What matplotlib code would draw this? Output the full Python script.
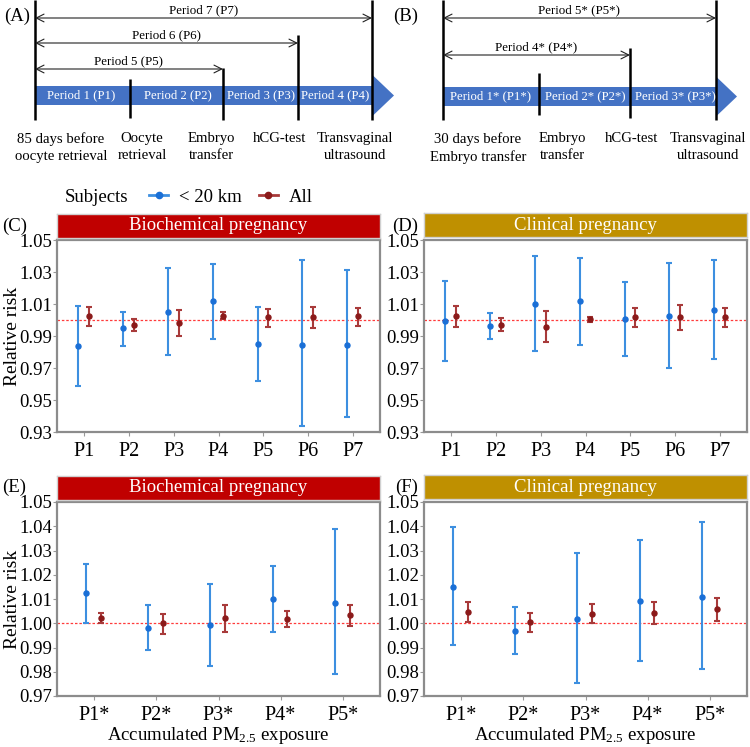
import numpy as np
import matplotlib
matplotlib.use('Agg')
import matplotlib.pyplot as plt
from matplotlib.patches import Rectangle, Polygon
from matplotlib.lines import Line2D

plt.rcParams['font.family'] = ['Liberation Serif', 'DejaVu Serif']
plt.rcParams['mathtext.fontset'] = 'custom'
plt.rcParams['mathtext.rm'] = 'Liberation Serif'
plt.rcParams['mathtext.it'] = 'Liberation Serif:italic'

# ---- data ----
cats_cd = ['P1', 'P2', 'P3', 'P4', 'P5', 'P6', 'P7']
cats_ef = ['P1*', 'P2*', 'P3*', 'P4*', 'P5*']

# (C) biochemical pregnancy, P1-P7
c_near = [0.984, 0.9947, 1.0053, 1.0116, 0.9848, 0.9844, 0.9844]
c_near_lo = [0.959, 0.984, 0.978, 0.988, 0.9617, 0.9339, 0.9396]
c_near_hi = [1.009, 1.0053, 1.0328, 1.035, 1.008, 1.0375, 1.031]
c_all = [1.0023, 0.997, 0.998, 1.0025, 1.0017, 1.0017, 1.0023]
c_all_lo = [0.9964, 0.993, 0.9897, 1.0004, 0.9958, 0.995, 0.9962]
c_all_hi = [1.008, 1.0006, 1.0063, 1.0048, 1.007, 1.0084, 1.0078]

# (D) clinical pregnancy, P1-P7
d_near = [0.9992, 0.9962, 1.0099, 1.0118, 1.0006, 1.0027, 1.0065]
d_near_lo = [0.9743, 0.9882, 0.9806, 0.9846, 0.9777, 0.9703, 0.9756]
d_near_hi = [1.0244, 1.0042, 1.0402, 1.0385, 1.0238, 1.0356, 1.0377]
d_all = [1.0025, 0.9968, 0.9956, 1.0004, 1.0019, 1.0019, 1.0019]
d_all_lo = [0.9956, 0.993, 0.9861, 0.9985, 0.9954, 0.9939, 0.9954]
d_all_hi = [1.009, 1.0015, 1.0057, 1.0021, 1.0074, 1.0095, 1.0074]

# (E) biochemical pregnancy, P1*-P5*
e_near = [1.0123, 0.9982, 0.9992, 1.0101, 1.0084]
e_near_lo = [1.0003, 0.9888, 0.9822, 0.9964, 0.9789]
e_near_hi = [1.0243, 1.0077, 1.0161, 1.0237, 1.0388]
e_all = [1.0021, 0.9999, 1.0021, 1.0018, 1.0032]
e_all_lo = [0.9999, 0.9957, 0.9964, 0.9986, 0.9988]
e_all_hi = [1.0043, 1.0039, 1.0076, 1.0051, 1.0074]

# (F) clinical pregnancy, P1*-P5*
f_near = [1.0151, 0.9968, 1.0018, 1.0093, 1.0109]
f_near_lo = [0.991, 0.9874, 0.9754, 0.9844, 0.9812]
f_near_hi = [1.0397, 1.0065, 1.0291, 1.0345, 1.0417]
f_all = [1.0047, 1.0006, 1.004, 1.0043, 1.0057]
f_all_lo = [1.0006, 0.9964, 1.0, 0.9997, 1.001]
f_all_hi = [1.0089, 1.0044, 1.0079, 1.0089, 1.0104]

yticks_cd = [0.93, 0.95, 0.97, 0.99, 1.01, 1.03, 1.05]
yticks_ef = [0.97, 0.98, 0.99, 1.00, 1.01, 1.02, 1.03, 1.04, 1.05]

BLUE = '#3d8fe0'
BLUE_DOT = '#1a6fd6'
RED = '#a83a3a'
RED_DOT = '#8b1a1a'
STRIP_RED = '#c00000'
STRIP_GOLD = '#bf9000'
BAR_BLUE = '#4472c4'

W, H = 750, 747
fig = plt.figure(figsize=(7.5, 7.47), dpi=100)


def fx(px):
    return px / W


def fy(px):
    return 1 - px / H


# ---- timeline diagrams (pixel coordinates) ----
dg = fig.add_axes([0, fy(172), 1, 172 / H])
dg.set_xlim(0, W)
dg.set_ylim(172, 0)
dg.axis('off')


def timeline(x0, x_end, bar_y, ticks, periods, spans, events):
    dg.add_patch(Rectangle((x0, bar_y[0]), x_end - x0, bar_y[1] - bar_y[0],
                           color=BAR_BLUE, lw=0))
    mid = (bar_y[0] + bar_y[1]) / 2
    dg.add_patch(Polygon([[x_end, mid - 20], [x_end + 21, mid], [x_end, mid + 20]],
                         closed=True, color=BAR_BLUE, lw=0))
    for x, y_top, y_bot in ticks:
        dg.plot([x, x], [y_top, y_bot], color='black', lw=1.8, solid_capstyle='butt')
    for x, txt in periods:
        dg.text(x, mid, txt, color='white', fontsize=9.2, ha='center', va='center')
    for xa, xb, y, txt in spans:
        dg.annotate('', xy=(xa, y), xytext=(xb, y),
                    arrowprops=dict(arrowstyle='<->', lw=0.8, color='#222222',
                                    shrinkA=0, shrinkB=0, mutation_scale=14))
        dg.text((xa + xb) / 2, y - 2, txt, fontsize=9.3, ha='center', va='bottom')
    for x, txt in events:
        dg.text(x, 132, txt, fontsize=10.6, ha='center', va='top', linespacing=1.4)


timeline(35, 373, (86, 105),
         [(35, 0, 120), (130, 79, 118), (223, 68, 120), (298, 35, 120), (372, 0, 120)],
         [(81, 'Period 1 (P1)'), (178, 'Period 2 (P2)'),
          (261, 'Period 3 (P3)'), (335, 'Period 4 (P4)')],
         [(35, 372, 18, 'Period 7 (P7)'), (35, 298, 43, 'Period 6 (P6)'),
          (35, 223, 69, 'Period 5 (P5)')],
         [(61, '85 days before\noocyte retrieval'), (142, 'Oocyte\nretrieval'),
          (211, 'Embryo\ntransfer'), (280, 'hCG-test'),
          (355, 'Transvaginal\nultrasound')])

timeline(443, 716, (87, 106),
         [(443, 0, 120), (539, 73, 115), (630, 48, 118), (716, 0, 120)],
         [(490, 'Period 1* (P1*)'), (585, 'Period 2* (P2*)'), (675, 'Period 3* (P3*)')],
         [(443, 716, 18, 'Period 5* (P5*)'), (443, 630, 55, 'Period 4* (P4*)')],
         [(478, '30 days before\nEmbryo transfer'), (562, 'Embryo\ntransfer'),
          (632, 'hCG-test'), (708, 'Transvaginal\nultrasound')])

fig.text(fx(4), fy(16), '(A)', fontsize=13.5, va='center')
fig.text(fx(393), fy(16), '(B)', fontsize=13.5, va='center')


# ---- forest-style panels ----
def panel(left, right, top, bottom, strip_top, title, strip_color, cats,
          near, near_lo, near_hi, allv, all_lo, all_hi, ylim, yticks, ylabel, xlabel):
    ax = fig.add_axes([fx(left), fy(bottom), fx(right) - fx(left), (bottom - top) / H])
    x = np.arange(1, len(cats) + 1)
    near = np.array(near)
    allv = np.array(allv)
    ax.axhline(1.0, color='#ff3b3b', lw=0.9, ls=(0, (2, 1.5)), zorder=1)
    ax.errorbar(x - 0.13, near, yerr=[near - np.array(near_lo), np.array(near_hi) - near],
                fmt='none', ecolor=BLUE, elinewidth=1.5, capsize=2.2, capthick=1.5, zorder=2)
    ax.plot(x - 0.13, near, 'o', color=BLUE_DOT, ms=3.6, zorder=3)
    ax.errorbar(x + 0.11, allv, yerr=[allv - np.array(all_lo), np.array(all_hi) - allv],
                fmt='none', ecolor=RED, elinewidth=1.5, capsize=2.2, capthick=1.5, zorder=2)
    ax.plot(x + 0.11, allv, 'o', color=RED_DOT, ms=3.6, zorder=3)
    ax.set_xlim(0.4, len(cats) + 0.6)
    ax.set_ylim(*ylim)
    ax.set_xticks(x)
    ax.set_xticklabels(cats)
    ax.set_yticks(yticks)
    ax.set_yticklabels(['%.2f' % t for t in yticks])
    ax.tick_params(labelsize=13.5, length=3, width=0.8, color='#999999', pad=0.5)
    ax.tick_params(axis='x', labelsize=14.5, pad=4)
    for s in ax.spines.values():
        s.set_color('#8c8c8c')
        s.set_linewidth(1.6)
    if ylabel:
        ax.set_ylabel('Relative risk', fontsize=14)
        ax.yaxis.set_label_coords(-(left - 21) / (right - left), 0.5)
    if xlabel:
        ax.set_xlabel(r'Accumulated PM$_{\mathrm{2.5}}$ exposure', fontsize=13.5, labelpad=0)
    st = fig.add_axes([fx(left), fy(strip_top + 24), fx(right) - fx(left), 24 / H])
    st.set_facecolor(strip_color)
    st.set_xticks([])
    st.set_yticks([])
    for s in st.spines.values():
        s.set_color('#d0d0d0')
        s.set_linewidth(1.0)
    st.text(0.5, 0.5, title, color='white', fontsize=13.5, ha='center', va='center',
            transform=st.transAxes)
    return ax


panel(57, 380, 240, 432, 214, 'Biochemical pregnancy', STRIP_RED, cats_cd,
      c_near, c_near_lo, c_near_hi, c_all, c_all_lo, c_all_hi,
      (0.93, 1.05), yticks_cd, True, False)
panel(424, 747, 240, 432, 213, 'Clinical pregnancy', STRIP_GOLD, cats_cd,
      d_near, d_near_lo, d_near_hi, d_all, d_all_lo, d_all_hi,
      (0.93, 1.05), yticks_cd, False, False)
panel(57, 380, 502, 696, 476, 'Biochemical pregnancy', STRIP_RED, cats_ef,
      e_near, e_near_lo, e_near_hi, e_all, e_all_lo, e_all_hi,
      (0.97, 1.05), yticks_ef, True, True)
panel(424, 747, 502, 696, 475, 'Clinical pregnancy', STRIP_GOLD, cats_ef,
      f_near, f_near_lo, f_near_hi, f_all, f_all_lo, f_all_hi,
      (0.97, 1.05), yticks_ef, False, True)

fig.text(fx(2), fy(226), '(C)', fontsize=13.5, va='center')
fig.text(fx(392), fy(226), '(D)', fontsize=13.5, va='center')
fig.text(fx(2), fy(487), '(E)', fontsize=13.5, va='center')
fig.text(fx(395), fy(487), '(F)', fontsize=13.5, va='center')

# legend
fig.text(fx(65), fy(197), 'Subjects', fontsize=13.5, va='center')
handles = [Line2D([], [], color=BLUE, marker='o', mfc=BLUE_DOT, mec=BLUE_DOT, ms=4.5, lw=2),
           Line2D([], [], color=RED, marker='o', mfc=RED_DOT, mec=RED_DOT, ms=4.5, lw=2)]
fig.legend(handles, ['< 20 km', 'All'], loc='center left',
           bbox_to_anchor=(fx(140), fy(197)), ncol=2, frameon=False, fontsize=13.5,
           handlelength=1.0, handletextpad=0.6, columnspacing=0.9, borderpad=0)

fig.savefig('out.png', dpi=100)
